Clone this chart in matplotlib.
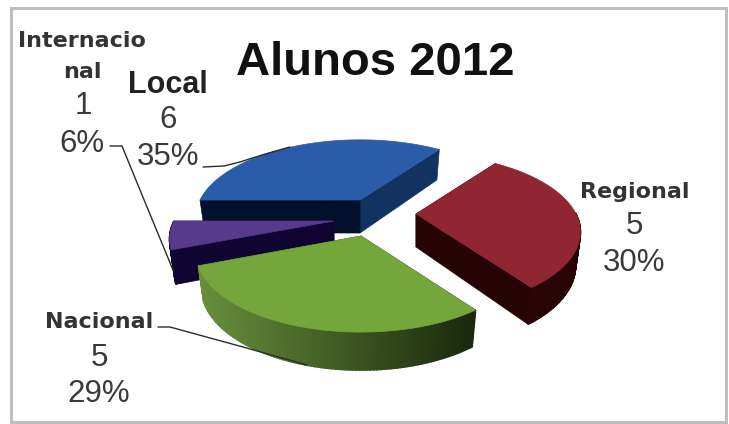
#!/usr/bin/python3

import numpy as np
import matplotlib
matplotlib.use("Agg")
import matplotlib.pyplot as plt
from matplotlib.patches import Polygon, Rectangle
from matplotlib.colors import to_rgb

### chart values
title = "Alunos 2012"
categories = ["Local", "Internacional", "Nacional", "Regional"]
counts = [6, 1, 5, 5]
shares = [35, 6, 29, 30]

### the pie is laid on a tilted plane, units below are pixels
START_ANGLE = 54
RADIUS_X = 160
RADIUS_Y = 74
TILT = 0.23
DEPTH = 33

centers = {
    "Local": (360, 200),
    "Internacional": (334, 221),
    "Nacional": (361, 236),
    "Regional": (416, 214),
}
top_colors = {
    "Local": "#2b5ca9",
    "Internacional": "#573a8b",
    "Nacional": "#74a63c",
    "Regional": "#8f2631",
}
# faces: first radial edge, second radial edge, outer wall left, outer wall right
side_colors = {
    "Local": ("#12335f", "#03112e", "#03112e", "#03112e"),
    "Internacional": ("#0f0530", "#0f0530", "#120735", "#0f0530"),
    "Nacional": ("#1a2b0d", "#1a2b0d", "#688f3c", "#18280c"),
    "Regional": ("#260406", "#260406", "#2c0508", "#260406"),
}


def project(theta, r, center, h=0.0):
    front = -np.sin(theta) * r
    scale = 1.0 / (1.0 - TILT * front)
    shrink = 0.97 if h else 1.0
    x = center[0] + RADIUS_X * np.cos(theta) * r * scale * shrink
    # the extrusion grows more slowly towards the viewer than the plane does
    y = center[1] + RADIUS_Y * front * scale + h * (0.5 + 0.5 * scale)
    return np.array([x, y])


def draw_slice(ax, name, a0, a1):
    c = centers[name]
    edge0, edge1, wall_left, wall_right = side_colors[name]
    angles = np.radians(np.arange(a0, a1 + 0.01, 1.0))
    apex_top = project(0.0, 0.0, c)
    apex_low = project(0.0, 0.0, c, DEPTH)

    # radial faces go first, the rim and the top cover whatever is hidden
    for th, col in ((angles[0], edge0), (angles[-1], edge1)):
        quad = [apex_top, project(th, 1, c), project(th, 1, c, DEPTH), apex_low]
        ax.add_patch(Polygon(quad, closed=True, fc=col, ec=col, lw=0.5))

    # rim, only the part that faces the front, shaded left to right
    left, right = np.array(to_rgb(wall_left)), np.array(to_rgb(wall_right))
    xs = project(angles, 1, c)[0]
    for t0, t1 in zip(angles[:-1], angles[1:]):
        if np.sin(t0) > 0 and np.sin(t1) > 0:
            continue
        t = (project(t0, 1, c)[0] - xs.min()) / max(xs.max() - xs.min(), 1)
        col = left + (right - left) * t
        quad = [project(t0, 1, c), project(t1, 1, c),
                project(t1, 1, c, DEPTH), project(t0, 1, c, DEPTH)]
        ax.add_patch(Polygon(quad, closed=True, fc=col, ec=col, lw=1.2))

    pts = [apex_top] + [project(t, 1, c) for t in angles]
    ax.add_patch(Polygon(pts, closed=True, fc=top_colors[name], ec=top_colors[name], lw=0.5))


fig = plt.figure(figsize=(7.29, 4.24), dpi=100)
ax = fig.add_axes([0, 0, 1, 1])
ax.set_xlim(0, 729)
ax.set_ylim(424, 0)
ax.axis("off")

ax.add_patch(Rectangle((11, 8), 715, 414, fc="white", ec="#bfbfbf", lw=2.2))

# slice angles come from the shares, counter-clockwise from the start angle
spans = np.array(shares) / sum(shares) * 360
ends = START_ANGLE + np.cumsum(spans)
starts = ends - spans
slices = {n: (s, e) for n, s, e in zip(categories, starts, ends)}

# back to front
for name in ["Local", "Regional", "Internacional", "Nacional"]:
    draw_slice(ax, name, *slices[name])

# leader lines
leader = dict(color="#2b2b2b", lw=1.0, solid_capstyle="round")
ax.plot([110, 122, 140, 173], [146, 146, 190, 270], **leader)
ax.plot([203, 224, 240, 262, 290], [167, 166, 162, 155, 147], **leader)
ax.plot([158, 170, 243, 307], [327, 327, 347, 365], **leader)

ax.text(375, 63, title, family="Liberation Sans", weight="bold", fontsize=34,
        ha="center", va="center", color="#111111")

name_font = dict(family="DejaVu Sans", weight="bold", fontsize=16, ha="center",
                 va="center", color="#333333")
value_font = dict(family="Liberation Sans", fontsize=22.5, ha="center",
                  va="center", color="#3a3a3a")

ax.text(82, 41, categories[1][:10], **name_font)
ax.text(82, 72, categories[1][10:], **name_font)
ax.text(83, 106, str(counts[1]), **value_font)
ax.text(82, 144, f"{shares[1]}%", **value_font)

ax.text(168, 85, categories[0], family="Liberation Sans", weight="bold",
        fontsize=22, ha="center", va="center", color="#222222")
ax.text(168, 120, str(counts[0]), **value_font)
ax.text(168, 157, f"{shares[0]}%", **value_font)

ax.text(635, 192, categories[3], **name_font)
ax.text(634, 226, str(counts[3]), **value_font)
ax.text(634, 263, f"{shares[3]}%", **value_font)

ax.text(99, 322, categories[2], **name_font)
ax.text(99, 358, str(counts[2]), **value_font)
ax.text(99, 394, f"{shares[2]}%", **value_font)

fig.savefig("out.png", dpi=100, facecolor="white")
